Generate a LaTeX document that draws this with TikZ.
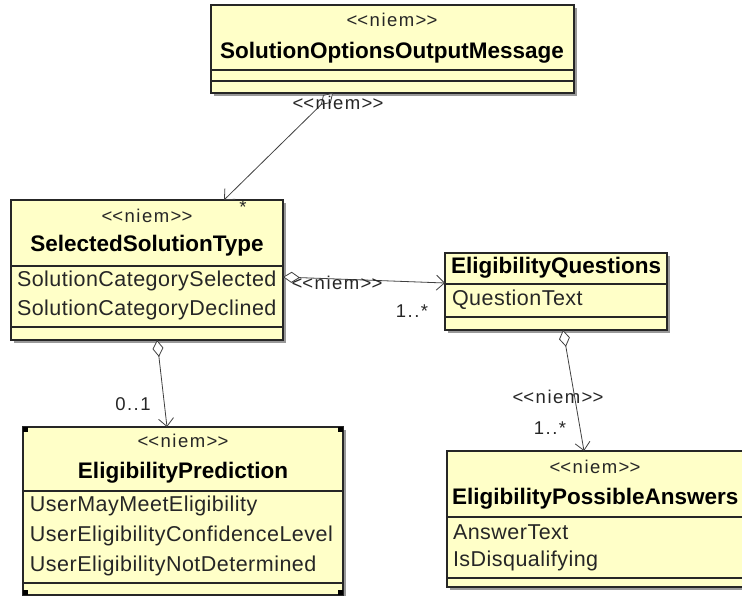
\documentclass[tikz,border=0pt]{standalone}
\usepackage{fontspec}
\setmainfont{Liberation Sans}
\usetikzlibrary{arrows.meta,shadows}
\definecolor{umlfill}{RGB}{255,255,200}
\newcommand\niem{<\kern0pt<niem>\kern0pt>}

\begin{document}
\begin{tikzpicture}
[x=1pt,y=-1pt,%
  every node/.style={inner sep=0pt,outer sep=0pt},%
  cls/.style={draw=black!85,fill=umlfill,line width=1.1pt,anchor=north west,%
    drop shadow={shadow xshift=3pt,shadow yshift=-3pt,fill=black!40,opacity=1}},%
  sep/.style={draw=black!85,line width=1.1pt},%
  ster/.style={font=\fontsize{18.5}{20}\selectfont\addfontfeature{LetterSpace=8},text=black!85},%
  cname/.style={font=\fontsize{22.5}{24}\selectfont\bfseries},%
  attr/.style={font=\fontsize{21.5}{24}\selectfont\addfontfeature{LetterSpace=2.2},text=black!85,anchor=west},%
  lbl/.style={font=\fontsize{18.5}{20}\selectfont\addfontfeature{LetterSpace=8},text=black!85},%
  agg/.style={draw=black!75,line width=0.8pt,%
    {Diamond[open,fill=white,length=17pt,width=11pt]}-{Straight Barb[length=8pt,width=15pt]}},%
  handle/.style={fill=black,minimum size=5pt}]
\useasboundingbox (0,0) rectangle (742,596);

\node[cls,minimum width=363pt,minimum height=88pt] (som) at (211,5) {};
\draw[sep] ([yshift=-65pt]som.north west) -- ([yshift=-65pt]som.north east);
\draw[sep] ([yshift=-76pt]som.north west) -- ([yshift=-76pt]som.north east);
\node[ster] (somSt) at (392,20) {\niem};
\node[cname] (somNm) at (392,53) {SolutionOptionsOutputMessage};

\node[cls,minimum width=272pt,minimum height=140pt] (sst) at (11,200) {};
\draw[sep] ([yshift=-66pt]sst.north west) -- ([yshift=-66pt]sst.north east);
\draw[sep] ([yshift=-127pt]sst.north west) -- ([yshift=-127pt]sst.north east);
\node[ster] (sstSt) at (147,216) {\niem};
\node[cname] (sstNm) at (147,246) {SelectedSolutionType};
\node[attr] (sstA1) at (17,281) {SolutionCategorySelected};
\node[attr] (sstA2) at (17,310) {SolutionCategoryDeclined};

\node[cls,minimum width=222pt,minimum height=77pt] (eq) at (445,253) {};
\draw[sep] ([yshift=-31pt]eq.north west) -- ([yshift=-31pt]eq.north east);
\draw[sep] ([yshift=-64pt]eq.north west) -- ([yshift=-64pt]eq.north east);
\node[cname,anchor=west] (eqNm) at (451,268) {EligibilityQuestions};
\node[attr] (eqA1) at (452,300) {QuestionText};

\node[cls,minimum width=320pt,minimum height=168pt] (ep) at (23,427) {};
\draw[sep] ([yshift=-64pt]ep.north west) -- ([yshift=-64pt]ep.north east);
\draw[sep] ([yshift=-156pt]ep.north west) -- ([yshift=-156pt]ep.north east);
\node[ster] (epSt) at (183,441) {\niem};
\node[cname] (epNm) at (183,473) {EligibilityPrediction};
\node[attr] (epA1) at (30,506) {UserMayMeetEligibility};
\node[attr] (epA2) at (30,536) {UserEligibilityConfidenceLevel};
\node[attr] (epA3) at (30,566) {UserEligibilityNotDetermined};
\node[handle,anchor=north west] (h1) at (ep.north west) {};
\node[handle,anchor=north east] (h2) at (ep.north east) {};
\node[handle,anchor=south west] (h3) at (ep.south west) {};
\node[handle,anchor=south east] (h4) at (ep.south east) {};

\node[cls,minimum width=296pt,minimum height=136pt] (epa) at (447,451) {};
\draw[sep] ([yshift=-66pt]epa.north west) -- ([yshift=-66pt]epa.north east);
\draw[sep] ([yshift=-127pt]epa.north west) -- ([yshift=-127pt]epa.north east);
\node[ster] (epaSt) at (595,467) {\niem};
\node[cname,anchor=west] (epaNm) at (452,499) {EligibilityPossibleAnswers};
\node[attr] (epaA1) at (453,532) {AnswerText};
\node[attr] (epaA2) at (453,561) {IsDisqualifying};

\draw[agg] ([xshift=122pt]som.south west) -- ([xshift=213pt]sst.north west);
\draw[agg] ([yshift=-77pt]sst.north east) -- ([yshift=-30pt]eq.north west);
\draw[agg] ([xshift=146pt]sst.south west) -- ([xshift=144pt]ep.north west);
\draw[agg] ([xshift=118pt]eq.south west) -- ([xshift=137pt]epa.north west);

\node[lbl] (l1) at (338,103) {\niem};
\node[lbl] (m1) at (243,207) {*};
\node[lbl] (l2) at (337,283) {\niem};
\node[lbl] (m2) at (412,311) {1..*};
\node[lbl] (m3) at (133,404) {0..1};
\node[lbl] (l4) at (558,397) {\niem};
\node[lbl] (m4) at (550,428) {1..*};
\end{tikzpicture}
\end{document}
